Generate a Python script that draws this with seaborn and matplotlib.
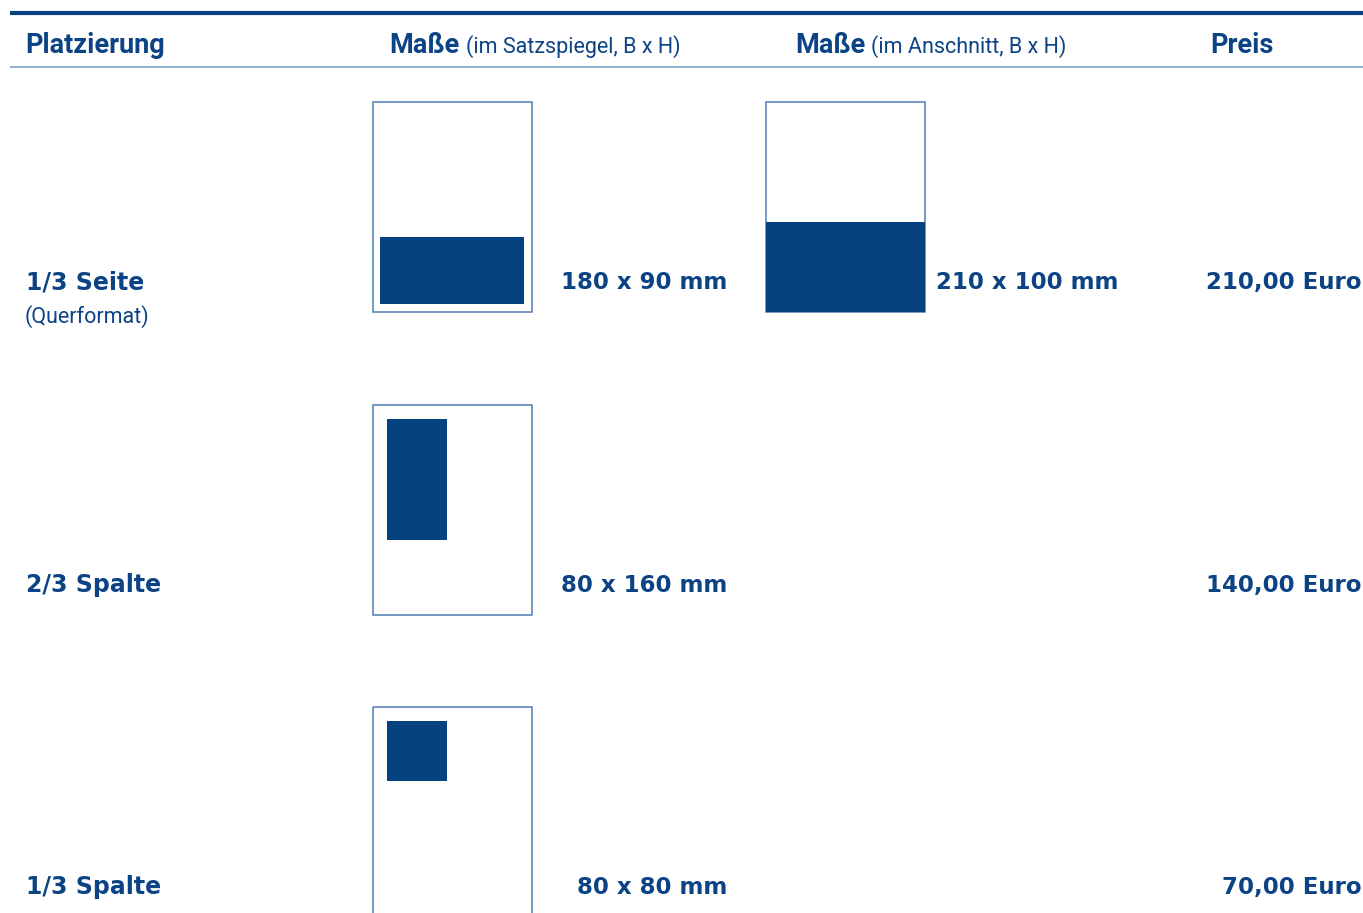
import matplotlib
matplotlib.use("Agg")
import matplotlib.pyplot as plt
from matplotlib.patches import Rectangle
import seaborn as sns

sns.set_theme(style="white")
plt.rcParams['font.family'] = ['Roboto', 'DejaVu Sans']

# ---- data ----
headers = ["Platzierung", "Maße", "(im Satzspiegel, B x H)", "Maße", "(im Anschnitt, B x H)", "Preis"]
placements = ["1/3 Seite", "2/3 Spalte", "1/3 Spalte"]
placement_notes = ["(Querformat)", "", ""]
sizes_type_area = ["180 x 90 mm", "80 x 160 mm", "80 x 80 mm"]
sizes_bleed = ["210 x 100 mm", "", ""]
prices = ["210,00 Euro", "140,00 Euro", "70,00 Euro"]
# ad rectangles within the page sketch (x, y, w, h) in sketch mm, page 210 x 278
page_w, page_h = 210, 278
ads_type_area = [(9, 178, 190, 89), (18, 18, 80, 160), (18, 18, 80, 80)]
ads_bleed = [(0, 158, 210, 120), None, None]

NAVY = "#05427f"
TEXT = "#0b4384"
OUTLINE = "#4f7db4"
RULE = "#7f9fc6"
ROW_FONT = ["DejaVu Sans"]

fig = plt.figure(figsize=(13.63, 9.13), dpi=100)
ax = fig.add_axes([0, 0, 1, 1])
ax.set_xlim(0, 1363)
ax.set_ylim(913, 0)
ax.axis("off")
sns.despine(ax=ax, left=True, bottom=True)

# header rules
ax.plot([10, 1363], [13.5, 13.5], color=NAVY, lw=3.0, solid_capstyle="butt")
ax.plot([10, 1363], [67.5, 67.5], color=RULE, lw=1.2, solid_capstyle="butt")

hy = 53
ax.text(25, hy, headers[0], fontsize=19.5, fontweight="bold", color=TEXT, va="baseline", ha="left")
ax.text(389, hy, headers[1], fontsize=19.5, fontweight="bold", color=TEXT, va="baseline", ha="left")
ax.text(466, hy, headers[2], fontsize=15.5, color=TEXT, va="baseline", ha="left")
ax.text(795, hy, headers[3], fontsize=19.5, fontweight="bold", color=TEXT, va="baseline", ha="left")
ax.text(871, hy, headers[4], fontsize=15.5, color=TEXT, va="baseline", ha="left")
ax.text(1242, hy, headers[5], fontsize=19.5, fontweight="bold", color=TEXT, va="baseline", ha="center")

scale = 0.757  # px per sketch mm
row_top = [102, 405, 707]
box_x = [373, 766]

for i in range(len(placements)):
    top = row_top[i]
    ty = top + 187
    ax.text(26, ty, placements[i], fontsize=17, fontweight="bold", color=TEXT,
            va="baseline", ha="left", family=ROW_FONT)
    if placement_notes[i]:
        ax.text(25, ty + 34, placement_notes[i], fontsize=15.5, color=TEXT, va="baseline", ha="left")
    ax.text(727, ty, sizes_type_area[i], fontsize=16.5, fontweight="bold", color=TEXT,
            va="baseline", ha="right", family=ROW_FONT)
    ax.text(1362, ty, prices[i], fontsize=16.5, fontweight="bold", color=TEXT,
            va="baseline", ha="right", family=ROW_FONT)

    # type-area page sketch
    pw, ph = page_w * scale, page_h * scale
    ax.add_patch(Rectangle((box_x[0], top), pw, ph, fill=False, edgecolor=OUTLINE, lw=1.1))
    x, y, w, h = ads_type_area[i]
    ax.add_patch(Rectangle((box_x[0] + x * scale, top + y * scale), w * scale, h * scale,
                           facecolor=NAVY, edgecolor="none"))
    if ads_bleed[i] is not None:
        ax.add_patch(Rectangle((box_x[1], top), pw, ph, fill=False, edgecolor=OUTLINE, lw=1.1))
        x, y, w, h = ads_bleed[i]
        ax.add_patch(Rectangle((box_x[1] + x * scale, top + y * scale), w * scale, h * scale,
                               facecolor=NAVY, edgecolor="none"))
        ax.text(936, ty, sizes_bleed[i], fontsize=16.5, fontweight="bold", color=TEXT,
                va="baseline", ha="left", family=ROW_FONT)

fig.savefig("out.png", dpi=100)
